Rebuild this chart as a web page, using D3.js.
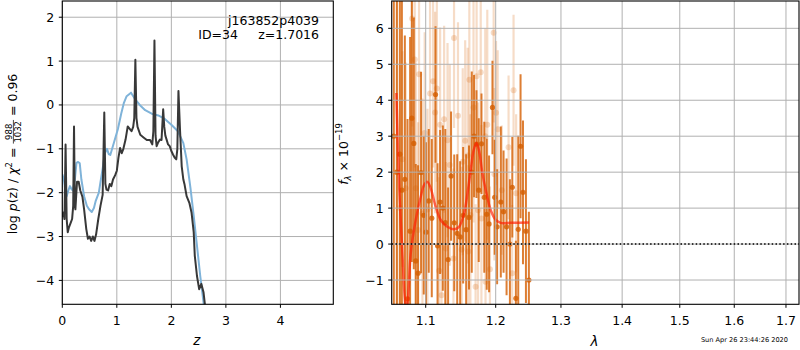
<!DOCTYPE html>
<html><head><meta charset="utf-8">
<script src="https://cdn.jsdelivr.net/npm/d3@7"></script>
<style>body{margin:0;background:#fff} svg{display:block} text{font-family:"DejaVu Sans",sans-serif;fill:#000;white-space:pre}</style>
</head><body><svg id="c" width="800" height="350"></svg>
<script>
// ---------- DATA ----------
const zRange = [0, 4.97];
const pzRange = [-4.545, 2.37];
const zTicks = [0, 1, 2, 3, 4];
const zTickLabels = ["0", "1", "2", "3", "4"];
const pzTicks = [-4, -3, -2, -1, 0, 1, 2];
const pzTickLabels = ["\u22124", "\u22123", "\u22122", "\u22121", "0", "1", "2"];

const pzZ = [0.00,0.02,0.04,0.06,0.08,0.10,0.12,0.15,0.18,0.20,0.215,0.23,0.24,0.27,0.30,0.33,0.37,0.40,0.44,0.47,0.50,0.53,0.56,0.59,0.62,0.66,0.70,0.74,0.77,0.79,0.81,0.84,0.87,0.90,0.93,0.97,1.00,1.03,1.06,1.09,1.12,1.16,1.20,1.24,1.27,1.30,1.32,1.34,1.36,1.38,1.43,1.49,1.55,1.61,1.65,1.67,1.69,1.71,1.73,1.76,1.79,1.82,1.85,1.87,1.89,1.91,1.94,1.97,2.00,2.03,2.06,2.09,2.11,2.13,2.16,2.19,2.22,2.24,2.28,2.33,2.37,2.41,2.43,2.47,2.51,2.55,2.59,2.62,2.70];
const pzLog = [-2.55,-2.45,-2.6,-0.9,-2.6,-2.9,-2.8,-2.7,-2.6,-2.3,-0.49,-2.3,-2.38,-1.75,-1.75,-1.95,-2.1,-2.38,-2.83,-3.05,-3.0,-3.1,-3.0,-3.1,-2.95,-2.6,-2.3,-2.05,-0.17,-1.8,-1.93,-1.95,-1.8,-1.85,-1.7,-1.6,-1.5,-1.2,-0.98,-1.1,-1.0,-0.79,-0.49,-0.55,-0.6,-0.5,-0.3,1.03,-0.3,-0.5,-0.68,-0.74,-0.8,-0.8,-0.9,-0.6,1.47,-0.7,-0.94,-0.85,-0.79,-0.8,-0.1,-0.5,-0.7,-0.78,-0.9,-0.94,-1.05,-1.13,-1.2,-1.24,-1.0,0.32,-0.6,-1.4,-1.7,-1.8,-2.08,-2.23,-2.45,-2.9,-3.44,-3.9,-4.2,-4.08,-4.27,-4.6,-5.2];

const chiZ = [0.00,0.03,0.06,0.08,0.11,0.14,0.17,0.19,0.23,0.26,0.29,0.32,0.35,0.40,0.45,0.49,0.54,0.58,0.61,0.67,0.70,0.74,0.78,0.82,0.85,0.88,0.93,1.02,1.08,1.13,1.18,1.26,1.33,1.42,1.52,1.64,1.76,1.88,2.00,2.12,2.22,2.28,2.33,2.35,2.41,2.47,2.53,2.60,2.68];
const chiVal = [-1.58,-1.7,-2.0,-2.08,-1.95,-1.85,-1.92,-1.95,-1.71,-1.32,-1.3,-1.33,-1.7,-2.08,-2.3,-2.38,-2.44,-2.35,-2.2,-2.0,-1.76,-1.45,-1.1,-1.0,-1.12,-1.14,-0.93,-0.55,-0.2,0.05,0.2,0.28,0.14,0.0,-0.12,-0.2,-0.24,-0.32,-0.45,-0.6,-0.87,-1.24,-1.7,-1.89,-2.53,-3.21,-3.9,-4.6,-5.4];

const lamRange = [1.054, 1.726];
const fluxRange = [-1.675, 6.76];
const lamTicks = [1.1, 1.2, 1.3, 1.4, 1.5, 1.6, 1.7];
const lamTickLabels = ["1.1", "1.2", "1.3", "1.4", "1.5", "1.6", "1.7"];
const fluxTicks = [-1, 0, 1, 2, 3, 4, 5, 6];
const fluxTickLabels = ["\u22121", "0", "1", "2", "3", "4", "5", "6"];

const darkWave = [1.0568,1.0609,1.0649,1.0676,1.0716,1.0752,1.0787,1.0810,1.0837,1.0864,1.0895,1.0936,1.0973,1.1004,1.1042,1.1084,1.1136,1.1164,1.1200,1.1238,1.1273,1.1312,1.1354,1.1399,1.1441,1.1483,1.1526,1.1569,1.1610,1.1650,1.1683,1.1718,1.1751,1.1791,1.1832,1.1868,1.1902,1.1952,1.1985,1.2021,1.2076,1.2117,1.2162,1.2212,1.2248,1.2302,1.2338,1.2373,1.2410,1.2455,1.2500];
const darkFlux = [3.0,2.0,2.5,1.5,1.8,-1.52,0.36,3.5,2.8,-0.47,-0.81,1.99,0.8,0.33,1.2,0.72,4.16,-0.05,1.17,1.0,0.6,-0.43,1.89,0.59,0.3,0.2,0.8,0.4,0.74,2.0,3.0,2.78,1.5,2.79,1.3,0.83,0.56,3.8,1.3,0.48,1.17,0.9,0.48,0.0,1.58,-1.51,0.41,2.72,1.44,0.36,-1.0];
const darkErr = [6.0,6.0,5.5,5.5,4.0,5.0,5.4,4.0,3.5,2.7,3.0,2.8,2.2,2.5,2.0,2.2,1.9,2.3,2.0,2.3,2.6,2.0,1.8,1.9,2.2,2.1,1.9,2.1,2.0,2.8,1.7,1.5,2.0,1.4,2.1,2.1,1.9,1.3,1.6,1.6,2.1,1.7,1.9,1.8,1.4,1.6,2.6,2.0,2.0,2.0,1.9];

const lightWave = [1.0610,1.0650,1.0683,1.0728,1.0814,1.0850,1.0864,1.0895,1.0909,1.0955,1.0986,1.1024,1.1060,1.1102,1.1130,1.1154,1.1186,1.1200,1.1220,1.1256,1.1280,1.1304,1.1336,1.1388,1.1396,1.1452,1.1505,1.1520,1.1555,1.1591,1.1600,1.1615,1.1630,1.1675,1.1705,1.1720,1.1741,1.1780,1.1790,1.1846,1.1850,1.1876,1.1915,1.1970,1.1981,1.2005,1.2030,1.2091,1.2192,1.2246,1.2267,1.2306];
const lightFlux = [2.0,1.0,2.36,1.55,6.27,5.13,1.55,0.39,4.72,0.85,3.09,0.96,4.19,4.53,3.66,4.33,-0.74,3.32,-1.42,3.47,-0.12,2.89,2.2,-0.4,5.73,3.57,-0.15,2.29,2.87,2.46,-0.21,4.57,0.81,3.8,-1.19,4.67,0.94,4.78,0.71,3.0,-1.05,3.32,-0.7,5.88,1.94,3.65,3.19,1.5,2.69,-0.81,4.28,1.41];
const lightErr = [5.0,4.0,3.0,3.5,3.0,3.0,3.5,3.0,2.8,3.2,2.8,2.8,2.6,2.4,2.8,2.6,2.6,2.7,2.5,2.6,2.4,2.7,2.8,2.5,2.5,2.6,2.3,2.6,2.8,3.0,2.4,2.6,2.8,3.2,2.3,3.2,3.0,2.8,2.6,3.0,2.4,3.2,2.3,2.5,2.4,2.0,2.2,1.8,2.0,1.9,2.1,2.2];

const modelWave = [1.0602,1.0638,1.0683,1.0714,1.0741,1.0768,1.0795,1.0863,1.0931,1.0977,1.1023,1.1069,1.1138,1.1208,1.1302,1.1396,1.1467,1.1539,1.1588,1.1635,1.1676,1.1718,1.1760,1.1805,1.1854,1.1927,1.2001,1.2075,1.2225,1.2503];
const modelFlux = [4.2,1.69,-0.26,-1.46,-1.9,-1.2,-0.26,0.67,1.31,1.64,1.73,1.55,1.04,0.67,0.48,0.41,0.48,0.85,1.41,2.06,2.6,2.81,2.55,1.96,1.5,0.94,0.67,0.59,0.59,0.6];

// ---------- LAYOUT ----------
const svg = d3.select("#c");
const FS = 12.5;
const GRID = "#b0b0b0";
const L = {x0: 62.3, x1: 333.3, y0: 1, y1: 304.3};
const R = {x0: 391.7, x1: 799, y0: 1, y1: 304.3};

const xL = d3.scaleLinear().domain(zRange).range([L.x0, L.x1]);
const yL = d3.scaleLinear().domain(pzRange).range([L.y1, L.y0]);
const xR = d3.scalePow().exponent(0.162).domain(lamRange).range([R.x0, R.x1]);
const yR = d3.scaleLinear().domain(fluxRange).range([R.y1, R.y0]);

const defs = svg.append("defs");
function clip(id, P) {
  defs.append("clipPath").attr("id", id).append("rect")
    .attr("x", P.x0).attr("y", P.y0).attr("width", P.x1 - P.x0).attr("height", P.y1 - P.y0);
}
clip("cl", L); clip("cr", R);

function grid(g, P, xs, ys, xsc, ysc) {
  xs.forEach(t => g.append("line").attr("x1", xsc(t)).attr("x2", xsc(t)).attr("y1", P.y0).attr("y2", P.y1)
    .attr("stroke", GRID).attr("stroke-width", 1));
  ys.forEach(t => g.append("line").attr("x1", P.x0).attr("x2", P.x1).attr("y1", ysc(t)).attr("y2", ysc(t))
    .attr("stroke", GRID).attr("stroke-width", 1));
}
function frame(P, xs, xl, ys, yl, xsc, ysc) {
  svg.append("rect").attr("x", P.x0).attr("y", P.y0).attr("width", P.x1 - P.x0).attr("height", P.y1 - P.y0)
    .attr("fill", "none").attr("stroke", "#000").attr("stroke-width", 1.1);
  xs.forEach((t, i) => {
    const x = xsc(t);
    svg.append("line").attr("x1", x).attr("x2", x).attr("y1", P.y1).attr("y2", P.y1 + 3.5).attr("stroke", "#000").attr("stroke-width", 1);
    svg.append("text").attr("x", x).attr("y", 325).attr("text-anchor", "middle").attr("font-size", FS).text(xl[i]);
  });
  ys.forEach((t, i) => {
    const y = ysc(t);
    svg.append("line").attr("x1", P.x0 - 3.5).attr("x2", P.x0).attr("y1", y).attr("y2", y).attr("stroke", "#000").attr("stroke-width", 1);
    svg.append("text").attr("x", P.x0 - 8).attr("y", y).attr("dy", "0.36em").attr("text-anchor", "end").attr("font-size", FS).text(yl[i]);
  });
}

// ---------- LEFT PANEL ----------
const gl = svg.append("g");
grid(gl, L, zTicks, pzTicks, xL, yL);
const gcl = gl.append("g").attr("clip-path", "url(#cl)");
const line = d3.line().x(d => xL(d[0])).y(d => yL(d[1]));
gcl.append("path").datum(d3.zip(chiZ, chiVal)).attr("d", line)
  .attr("fill", "none").attr("stroke", "#7fb3d9").attr("stroke-width", 2).attr("stroke-linejoin", "round");
gcl.append("path").datum(d3.zip(pzZ, pzLog)).attr("d", line)
  .attr("fill", "none").attr("stroke", "#383838").attr("stroke-width", 2).attr("stroke-linejoin", "round");
frame(L, zTicks, zTickLabels, pzTicks, pzTickLabels, xL, yL);

svg.append("text").attr("x", 319).attr("y", 25).attr("text-anchor", "end").attr("font-size", FS).text("j163852p4039");
svg.append("text").attr("x", 238).attr("y", 39).attr("text-anchor", "end").attr("font-size", FS).text("ID=34");
svg.append("text").attr("x", 319).attr("y", 39).attr("text-anchor", "end").attr("font-size", FS).text("z=1.7016");
svg.append("text").attr("x", 196.8).attr("y", 345).attr("text-anchor", "middle").attr("font-size", 13.5).attr("font-style", "italic").text("z");

// left y label (rotated)
(function () {
  const g = svg.append("g");
  const t1 = g.append("text").attr("font-size", FS);
  t1.append("tspan").text("log ");
  t1.append("tspan").attr("font-style", "italic").text("p");
  t1.append("tspan").text("(z) / ");
  t1.append("tspan").attr("font-style", "italic").text("\u03c7");
  t1.append("tspan").attr("font-size", 8.5).attr("dy", -5).text("2");
  t1.append("tspan").attr("dy", 5).text(" = ");
  const w1 = t1.node().getComputedTextLength();
  const num = g.append("text").attr("font-size", 8.5).attr("text-anchor", "middle").text("988");
  const den = g.append("text").attr("font-size", 8.5).attr("text-anchor", "middle").text("1032");
  const wf = Math.max(num.node().getComputedTextLength(), den.node().getComputedTextLength()) + 2;
  const t2 = g.append("text").attr("font-size", FS).text(" = 0.96");
  const w2 = t2.node().getComputedTextLength();
  const W = w1 + wf + w2, s = -W / 2;
  t1.attr("x", s).attr("y", 0);
  num.attr("x", s + w1 + wf / 2).attr("y", -5.2);
  den.attr("x", s + w1 + wf / 2).attr("y", 3.6);
  g.append("line").attr("x1", s + w1).attr("x2", s + w1 + wf).attr("y1", -3.9).attr("y2", -3.9).attr("stroke", "#000").attr("stroke-width", 0.7);
  t2.attr("x", s + w1 + wf).attr("y", 0);
  g.attr("transform", "translate(17.3,154) rotate(-90)");
})();

// ---------- RIGHT PANEL ----------
const gr = svg.append("g");
const gcr = gr.append("g").attr("clip-path", "url(#cr)");
const ORANGE = "#d55e00";
const light = d3.zip(lightWave, lightFlux, lightErr);
const dark = d3.zip(darkWave, darkFlux, darkErr);
gcr.selectAll(".le").data(light).join("line")
  .attr("x1", d => xR(d[0])).attr("x2", d => xR(d[0]))
  .attr("y1", d => yR(d[1] - d[2])).attr("y2", d => yR(d[1] + d[2]))
  .attr("stroke", ORANGE).attr("stroke-opacity", 0.22).attr("stroke-width", 2.2);
gcr.selectAll(".lp").data(light).join("circle")
  .attr("cx", d => xR(d[0])).attr("cy", d => yR(d[1])).attr("r", 3)
  .attr("fill", ORANGE).attr("fill-opacity", 0.22);
gcr.selectAll(".de").data(dark).join("line")
  .attr("x1", d => xR(d[0])).attr("x2", d => xR(d[0]))
  .attr("y1", d => yR(d[1] - d[2])).attr("y2", d => yR(d[1] + d[2]))
  .attr("stroke", ORANGE).attr("stroke-opacity", 0.8).attr("stroke-width", 2);
gcr.selectAll(".dp").data(dark).join("circle")
  .attr("cx", d => xR(d[0])).attr("cy", d => yR(d[1])).attr("r", 2.6)
  .attr("fill", ORANGE).attr("fill-opacity", 0.8);
gcr.append("path").datum(d3.zip(modelWave, modelFlux))
  .attr("d", d3.line().x(d => xR(d[0])).y(d => yR(d[1])).curve(d3.curveCatmullRom))
  .attr("fill", "none").attr("stroke", "#ff1a00").attr("stroke-opacity", 0.65).attr("stroke-width", 2.5);
grid(gr, R, lamTicks, fluxTicks, xR, yR);
gr.append("line").attr("x1", R.x0).attr("x2", R.x1).attr("y1", yR(0)).attr("y2", yR(0))
  .attr("stroke", "#000").attr("stroke-width", 1.5).attr("stroke-dasharray", "1.5,2.3");
frame(R, lamTicks, lamTickLabels, fluxTicks, fluxTickLabels, xR, yR);

svg.append("text").attr("x", 594.5).attr("y", 346).attr("text-anchor", "middle").attr("font-size", 13.5).attr("font-style", "italic").text("\u03bb");
svg.append("text").attr("x", 788).attr("y", 341.5).attr("text-anchor", "end").attr("font-size", 6.6).text("Sun Apr 26 23:44:26 2020");

// right y label
(function () {
  const g = svg.append("g");
  const t = g.append("text").attr("font-size", FS);
  t.append("tspan").attr("font-style", "italic").text("f");
  t.append("tspan").attr("font-size", 8.5).attr("font-style", "italic").attr("dy", 3).text("\u03bb");
  t.append("tspan").attr("dy", -3).text(" \u00d7 10");
  t.append("tspan").attr("font-size", 8.5).attr("dy", -5.5).text("\u221219");
  const W = t.node().getComputedTextLength();
  t.attr("x", -W / 2).attr("y", 0);
  g.attr("transform", "translate(347.5,154) rotate(-90)");
})();
</script></body></html>
